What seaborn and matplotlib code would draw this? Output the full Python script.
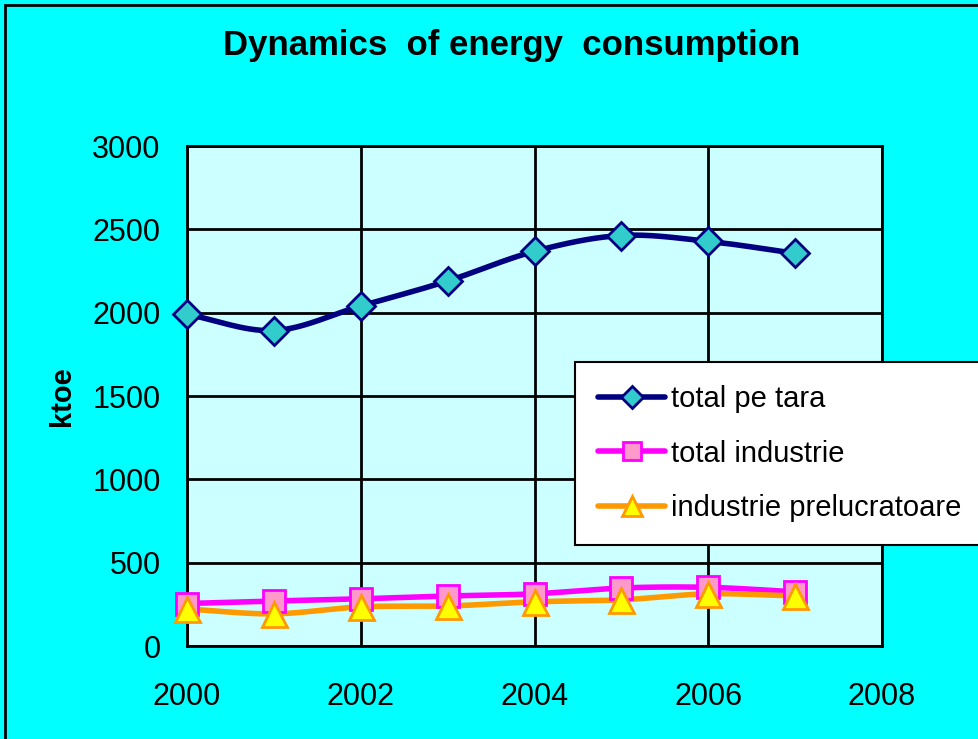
import numpy as np
import pandas as pd
import seaborn as sns
import matplotlib.pyplot as plt
from matplotlib.patches import Rectangle

years = [2000, 2001, 2002, 2003, 2004, 2005, 2006, 2007]
total_pe_tara = [1990, 1893, 2040, 2190, 2368, 2463, 2428, 2356]
total_industrie = [255, 270, 283, 300, 313, 348, 352, 325]
industrie_prelucratoare = [222, 193, 235, 240, 265, 277, 313, 300]

series_names = ["total pe tara", "total industrie", "industrie prelucratoare"]


def smooth(x, y, n=30):
    # catmull-rom style curve, like the excel "smoothed line" option
    x = np.asarray(x, float)
    y = np.asarray(y, float)
    px = np.concatenate([[2 * x[0] - x[1]], x, [2 * x[-1] - x[-2]]])
    py = np.concatenate([[2 * y[0] - y[1]], y, [2 * y[-1] - y[-2]]])
    xs, ys = [], []
    t = np.linspace(0, 1, n)
    for i in range(1, len(px) - 2):
        for p, out in ((px, xs), (py, ys)):
            p0, p1, p2, p3 = p[i - 1], p[i], p[i + 1], p[i + 2]
            out.extend(0.5 * ((2 * p1) + (-p0 + p2) * t
                              + (2 * p0 - 5 * p1 + 4 * p2 - p3) * t ** 2
                              + (-p0 + 3 * p1 - 3 * p2 + p3) * t ** 3))
    return np.array(xs), np.array(ys)


sns.set_style("white")
plt.rcParams["font.family"] = ["Liberation Sans", "DejaVu Sans"]
plt.rcParams["text.color"] = "black"
plt.rcParams["axes.labelcolor"] = "black"
plt.rcParams["xtick.color"] = "black"
plt.rcParams["ytick.color"] = "black"

fig = plt.figure(figsize=(9.79, 7.39), dpi=100)
fig.patch.set_facecolor("#00FFFF")
ax = fig.add_axes([187 / 979, 1 - 646 / 739, (882 - 187) / 979, (646 - 146) / 739])
ax.set_facecolor("#CCFFFF")

styles = [
    dict(line="#000080", marker="D", face="#33CCCC", edge="#000080", size=14),
    dict(line="#FF00FF", marker="s", face="#FF99CC", edge="#FF00FF", size=16),
    dict(line="#FF9900", marker="^", face="#FFFF00", edge="#FF9900", size=18),
]
data = [total_pe_tara, total_industrie, industrie_prelucratoare]

for name, vals, st in zip(series_names, data, styles):
    sx, sy = smooth(years, vals)
    df = pd.DataFrame({"year": sx, "value": sy})
    sns.lineplot(data=df, x="year", y="value", sort=False, color=st["line"],
                 lw=4, ax=ax, zorder=3)
    ax.plot(years, vals, linestyle="none", marker=st["marker"], ms=st["size"],
            mfc=st["face"], mec=st["edge"], mew=2, zorder=4, clip_on=False)
    # legend handle
    ax.plot([], [], color=st["line"], lw=4, marker=st["marker"], ms=st["size"] - 3,
            mfc=st["face"], mec=st["edge"], mew=2, label=name)

ax.set_xlim(2000, 2008)
ax.set_ylim(0, 3000)
ax.set_xticks([2000, 2002, 2004, 2006, 2008])
ax.set_yticks(range(0, 3001, 500))
ax.grid(True, color="black", lw=2)
ax.set_axisbelow(True)
for s in ax.spines.values():
    s.set_color("black")
    s.set_linewidth(2)
ax.tick_params(axis="both", labelsize=22, length=0)
ax.tick_params(axis="x", pad=26)
ax.tick_params(axis="y", pad=19)
ax.set_xlabel("")
ax.set_ylabel("ktoe", fontsize=21, fontweight="bold", labelpad=12)

fig.text(0.523, 1 - 45 / 739, "Dynamics  of energy  consumption", ha="center",
         va="center", fontsize=25, fontweight="bold")

leg = ax.legend(loc="upper left", bbox_to_anchor=((575 - 187) / 695, 1 - (362 - 146) / 500),
                fontsize=21, frameon=True, fancybox=False, framealpha=1,
                edgecolor="black", handlelength=2.3, labelspacing=0.9,
                borderpad=0.8, handletextpad=0.2, borderaxespad=0)
leg.get_frame().set_linewidth(1.5)
leg.set_zorder(10)

fig.patches.append(Rectangle((5 / 979, -0.05), 1.1, 1 - 5 / 739 + 0.05,
                             transform=fig.transFigure, fill=False,
                             edgecolor="black", lw=2))

fig.savefig("out.png", dpi=100, facecolor=fig.get_facecolor())
